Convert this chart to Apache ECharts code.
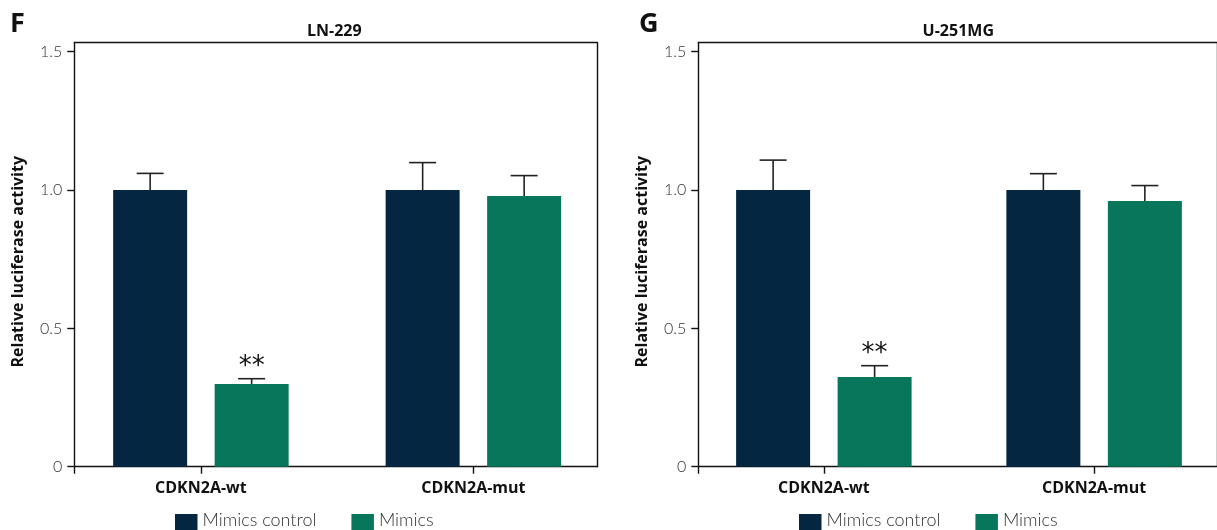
<!DOCTYPE html>
<html>
<head>
<meta charset="utf-8">
<script src="https://cdn.jsdelivr.net/npm/echarts@6/dist/echarts.min.js"></script>
<style>
html,body{margin:0;padding:0;background:#fff;}
#chart{width:1217px;height:530px;}
</style>
</head>
<body>
<div id="chart"></div>
<script>
// ---- data ----
const categories = ['CDKN2A-wt', 'CDKN2A-mut'];
const seriesNames = ['Mimics control', 'Mimics'];
const panelTitles = ['LN-229', 'U-251MG'];
const panelLetters = ['F', 'G'];
const yTicks = [0, 0.5, 1.0, 1.5];

// LN-229
const ln229Control = [1.0, 1.0];
const ln229ControlSD = [0.06, 0.099];
const ln229Mimics = [0.299, 0.978];
const ln229MimicsSD = [0.019, 0.074];
const ln229MimicsSig = ['**', ''];

// U-251MG
const u251Control = [1.0, 1.0];
const u251ControlSD = [0.108, 0.059];
const u251Mimics = [0.324, 0.960];
const u251MimicsSD = [0.041, 0.056];
const u251MimicsSig = ['**', ''];

// ---- style / layout ----
const COLORS = ['#052641', '#08765a'];
const BAR_W = 74;
const BAR_GAP_PX = 27.5;
const Y_MAX = 1.5323;
const X_MIN = -0.4646, X_MAX = 1.4547;
const gridLefts = [74.3, 698.3];
const GRID_TOP = 42.7, GRID_W = 523, GRID_H = 424;
const FONT = 'Open Sans';
const LIGHT = 'Lato';

const panels = [
  {ctrl: ln229Control, ctrlSD: ln229ControlSD, mim: ln229Mimics, mimSD: ln229MimicsSD, sig: ln229MimicsSig},
  {ctrl: u251Control, ctrlSD: u251ControlSD, mim: u251Mimics, mimSD: u251MimicsSD, sig: u251MimicsSig}
];

const grid = [], xAxis = [], yAxis = [], series = [], title = [], legend = [];

panels.forEach((p, i) => {
  grid.push({left: gridLefts[i], top: GRID_TOP, width: GRID_W, height: GRID_H});
  const lineStyle = {color: '#111', width: 1.4};
  xAxis.push({
    gridIndex: i, type: 'value', min: X_MIN, max: X_MAX, position: 'bottom',
    axisLine: {show: true, onZero: false, lineStyle},
    axisTick: {show: true, length: 7, lineStyle, customValues: [X_MIN, 0, 1]},
    axisLabel: {
      customValues: [0, 1], margin: 14,
      formatter: v => categories[Math.round(v)] || '',
      fontFamily: FONT, fontWeight: 'bold', fontSize: 16, color: '#111'
    },
    splitLine: {show: false}
  });
  xAxis.push({
    gridIndex: i, type: 'value', min: X_MIN, max: X_MAX, position: 'top',
    axisLine: {show: true, onZero: false, lineStyle}, axisTick: {show: false}, axisLabel: {show: false}, splitLine: {show: false}
  });
  yAxis.push({
    gridIndex: i, type: 'value', min: 0, max: Y_MAX, position: 'left',
    name: 'Relative luciferase activity', nameLocation: 'middle', nameGap: 48,
    nameTextStyle: {fontFamily: FONT, fontWeight: 'bold', fontSize: 16, color: '#111', padding: [0, 14, 0, 0]},
    axisLine: {show: true, onZero: false, lineStyle},
    axisTick: {show: true, length: 7, lineStyle, customValues: yTicks},
    axisLabel: {
      customValues: yTicks, margin: 12,
      formatter: v => (v === 0 ? '0' : v.toFixed(1)),
      fontFamily: LIGHT, fontWeight: 300, fontSize: 16, color: '#333'
    },
    splitLine: {show: false}
  });
  yAxis.push({
    gridIndex: i, type: 'value', min: 0, max: Y_MAX, position: 'right',
    axisLine: {show: true, onZero: false, lineStyle}, axisTick: {show: false}, axisLabel: {show: false}, splitLine: {show: false}
  });

  const xi = i * 2, yi = i * 2;
  const groups = [
    {name: seriesNames[0], vals: p.ctrl, sd: p.ctrlSD, sig: ['', ''], color: COLORS[0], off: -(BAR_W + BAR_GAP_PX) / 2},
    {name: seriesNames[1], vals: p.mim, sd: p.mimSD, sig: p.sig, color: COLORS[1], off: (BAR_W + BAR_GAP_PX) / 2}
  ];
  groups.forEach(g => {
    series.push({
      type: 'bar', name: g.name, xAxisIndex: xi, yAxisIndex: yi,
      barWidth: BAR_W, barGap: (BAR_GAP_PX / BAR_W * 100) + '%',
      itemStyle: {color: g.color},
      data: g.vals.map((v, k) => [k, v]),
      z: 2
    });
  });
  groups.forEach(g => {
    series.push({
      type: 'custom', name: g.name + ' error', xAxisIndex: xi, yAxisIndex: yi,
      data: g.vals.map((v, k) => [k, v, g.sd[k], k]),
      z: 3, silent: true,
      renderItem: (params, api) => {
        const k = api.value(3);
        const base = api.coord([api.value(0), api.value(1)]);
        const top = api.coord([api.value(0), api.value(1) + api.value(2)]);
        const cx = base[0] + g.off;
        const st = {stroke: '#222', lineWidth: 1.6};
        const children = [
          {type: 'line', shape: {x1: cx, y1: base[1], x2: cx, y2: top[1]}, style: st},
          {type: 'line', shape: {x1: cx - 13.5, y1: top[1], x2: cx + 13.5, y2: top[1]}, style: st}
        ];
        const s = g.sig[k];
        if (s) {
          children.push({type: 'text', style: {text: s, x: cx, y: top[1] + 2, align: 'center', verticalAlign: 'bottom',
            fontFamily: 'DejaVu Sans', fontSize: 26, fill: '#111'}});
        }
        return {type: 'group', children};
      }
    });
  });

  title.push({
    text: panelTitles[i], left: gridLefts[i] + 255, top: 18, textAlign: 'center',
    textStyle: {fontFamily: FONT, fontWeight: 'bold', fontSize: 16, color: '#111'}
  });
  title.push({
    text: panelLetters[i], left: i === 0 ? 5 : 634, top: 6,
    textStyle: {fontFamily: FONT, fontWeight: 'bold', fontSize: 27, color: '#111'}
  });
  legend.push({
    data: seriesNames, left: i === 0 ? 175 : 799, top: 511.5, orient: 'horizontal', padding: 0,
    itemWidth: 22.5, itemHeight: 22, itemGap: 35, icon: 'rect',
    formatter: name => '{t|' + name + '}',
    textStyle: {
      fontFamily: LIGHT, fontWeight: 300, fontSize: 18, color: '#333',
      rich: {t: {fontFamily: LIGHT, fontWeight: 300, fontSize: 18, color: '#333', padding: [0, 0, 9, 0]}}
    },
    selectedMode: false
  });
});

const chart = echarts.init(document.getElementById('chart'), null, {renderer: 'canvas'});
chart.setOption({
  animation: false,
  backgroundColor: '#fff',
  title, legend, grid, xAxis, yAxis, series
});
</script>
</body>
</html>
